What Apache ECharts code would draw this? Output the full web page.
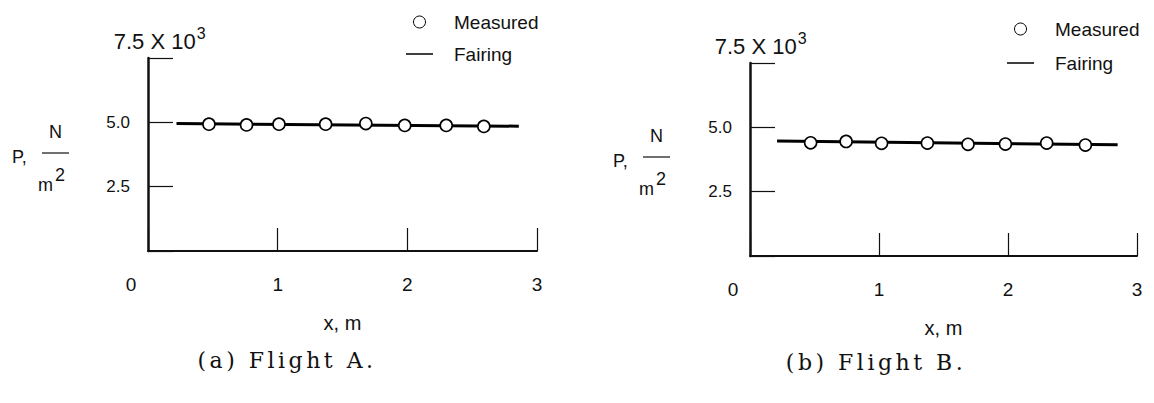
<!DOCTYPE html>
<html>
<head>
<meta charset="utf-8">
<title>Pressure distribution, Flights A and B</title>
<script src="https://cdn.jsdelivr.net/npm/echarts@6.0.0/dist/echarts.min.js"></script>
<style>
  html, body { margin: 0; padding: 0; background: #fff; }
  #chart { width: 1154px; height: 403px; }
</style>
</head>
<body>
<div id="chart"></div>
<script>
// Pressure P along the body, in units of 10^3 N/m^2, against station x in metres.
const xTickValues = [0, 1, 2, 3];
const yTickLabels = ['2.5', '5.0'];

// Flight A
const flightA_x = [0.47, 0.76, 1.01, 1.37, 1.68, 1.98, 2.30, 2.59];
const flightA_p = [4.93, 4.90, 4.93, 4.93, 4.95, 4.88, 4.88, 4.84];
const fairingA_x = [0.22, 2.86];
const fairingA_p = [4.95, 4.85];

// Flight B
const flightB_x = [0.47, 0.745, 1.02, 1.375, 1.69, 1.98, 2.30, 2.60];
const flightB_p = [4.40, 4.45, 4.38, 4.39, 4.34, 4.35, 4.39, 4.31];
const fairingB_x = [0.21, 2.85];
const fairingB_p = [4.47, 4.32];

const captions = ['(a) Flight A.', '(b) Flight B.'];

const FONT = "'Liberation Sans',Arial,sans-serif";
const SERIF = "'DejaVu Serif','Liberation Serif',serif";
const INK = '#111';

const zip = (xs, ys) => xs.map((x, i) => [x, ys[i]]);

const grids = [
  { left: 148, top: 58, width: 389, height: 193 },
  { left: 750, top: 63, width: 387, height: 193 }
];

function xAxisFor(i) {
  return {
    type: 'value', gridIndex: i, min: xTickValues[0], max: xTickValues[xTickValues.length - 1], interval: 1,
    name: 'x, m', nameLocation: 'middle', nameGap: 62,
    nameTextStyle: { fontFamily: FONT, fontSize: 20, color: INK },
    axisLine: { show: true, onZero: false, lineStyle: { color: INK, width: 2 } },
    axisTick: { show: true, inside: true, length: 23, lineStyle: { color: INK, width: 1.2 } },
    splitLine: { show: false },
    axisLabel: {
      margin: 24, fontFamily: FONT, fontSize: 19, color: INK,
      formatter: v => (v === 0 ? '{z|0}' : String(v)),
      rich: { z: { fontFamily: FONT, fontSize: 19, color: INK, padding: [0, 34, 0, 0] } }
    }
  };
}

function yAxisFor(i) {
  return {
    type: 'value', gridIndex: i, min: 0, max: 7.5, interval: 2.5,
    axisLine: { show: true, onZero: false, lineStyle: { color: INK, width: 2.5 } },
    axisTick: { show: true, inside: true, length: 25, lineStyle: { color: INK, width: 1.2 } },
    splitLine: { show: false },
    axisLabel: {
      margin: 18, fontFamily: FONT, fontSize: 17, color: INK,
      formatter: v => {
        const s = v.toFixed(1);
        return yTickLabels.indexOf(s) >= 0 ? s : '';
      }
    }
  };
}

function seriesFor(i, fx, fp, mx, mp) {
  return [
    {
      type: 'line', name: 'Fairing', xAxisIndex: i, yAxisIndex: i,
      data: zip(fx, fp), symbol: 'none', showSymbol: false, color: '#000',
      itemStyle: { color: '#000' },
      lineStyle: { color: '#000', width: 3 }, z: 2, silent: true
    },
    {
      type: 'scatter', name: 'Measured', xAxisIndex: i, yAxisIndex: i,
      data: zip(mx, mp), symbol: 'circle', symbolSize: 12,
      itemStyle: { color: '#fff', borderColor: '#000', borderWidth: 1.6, opacity: 1 },
      z: 3, silent: true
    }
  ];
}

// A thin horizontal stroke for the fairing key; the two specks keep its box 12 px tall.
const FAIRING_ICON = 'path://M0,0L0.01,0L0.01,0.01ZM0,5.3L27,5.3L27,6.7L0,6.7ZM0,12L0.01,12L0.01,11.99Z';

function legendFor(left, top, gap) {
  return {
    left: left, top: top, padding: 0, orient: 'vertical', itemWidth: 27, itemHeight: 12, itemGap: gap,
    selectedMode: false,
    data: [
      { name: 'Measured', icon: 'circle', itemStyle: { color: '#fff', borderColor: '#000', borderWidth: 1 } },
      { name: 'Fairing', icon: FAIRING_ICON, itemStyle: { color: '#000', borderWidth: 0 } }
    ],
    textStyle: { fontFamily: FONT, fontSize: 19, color: INK, lineHeight: 22, padding: [0, 0, 0, 16] }
  };
}

// Axis-title block to the left of each panel: "P, N/m²", the scale note above the axis, and the caption.
function panelText(dx, dy, axisX, axisTop, caption, capX, capY) {
  return [
    { type: 'text', x: 12 + dx, y: 157 + dy,
      style: { text: 'P,', font: `18px ${FONT}`, fill: INK, textVerticalAlign: 'middle' } },
    { type: 'text', x: 55.5 + dx, y: 132 + dy,
      style: { text: 'N', font: `18px ${FONT}`, fill: INK, textAlign: 'center', textVerticalAlign: 'middle' } },
    { type: 'line', shape: { x1: 42 + dx, y1: 153 + dy, x2: 69 + dx, y2: 153 + dy },
      style: { stroke: INK, lineWidth: 1.2 } },
    { type: 'text', x: 45.5 + dx, y: 185 + dy,
      style: { text: 'm', font: `18px ${FONT}`, fill: INK, textAlign: 'center', textVerticalAlign: 'middle' } },
    { type: 'text', x: 55 + dx, y: 175 + dy,
      style: { text: '2', font: `18px ${FONT}`, fill: INK, textVerticalAlign: 'middle' } },
    { type: 'text', x: axisX - 37, y: axisTop - 16.5,
      style: { text: '7.5 X 10', font: `22px ${FONT}`, fill: INK, textVerticalAlign: 'middle' } },
    { type: 'text', x: axisX + 46, y: axisTop - 24.5,
      style: { text: '3', font: `16px ${FONT}`, fill: INK, textVerticalAlign: 'middle' } },
    { type: 'text', x: capX, y: capY,
      style: { text: caption, font: `22px ${SERIF}`, fill: INK, textAlign: 'center', textVerticalAlign: 'middle' } }
  ];
}

const chart = echarts.init(document.getElementById('chart'), null, { renderer: 'svg' });

chart.setOption({
  animation: false,
  backgroundColor: '#fff',
  grid: grids,
  xAxis: [xAxisFor(0), xAxisFor(1)],
  yAxis: [yAxisFor(0), yAxisFor(1)],
  legend: [legendFor(406, 11, 10), legendFor(1007, 18, 12)],
  series: [
    ...seriesFor(0, fairingA_x, fairingA_p, flightA_x, flightA_p),
    ...seriesFor(1, fairingB_x, fairingB_p, flightB_x, flightB_p)
  ],
  graphic: [
    ...panelText(0, 0, 150.7, 58.3, captions[0], 287, 360),
    ...panelText(601, 4, 751.7, 63.3, captions[1], 876, 362)
  ]
});

// Open up the typewriter-style caption lettering.
function spaceCaptions() {
  document.querySelectorAll('#chart svg text').forEach(t => {
    if (captions.indexOf(t.textContent) >= 0) t.setAttribute('letter-spacing', '3.5');
  });
}
spaceCaptions();
chart.on('finished', spaceCaptions);
</script>
</body>
</html>
